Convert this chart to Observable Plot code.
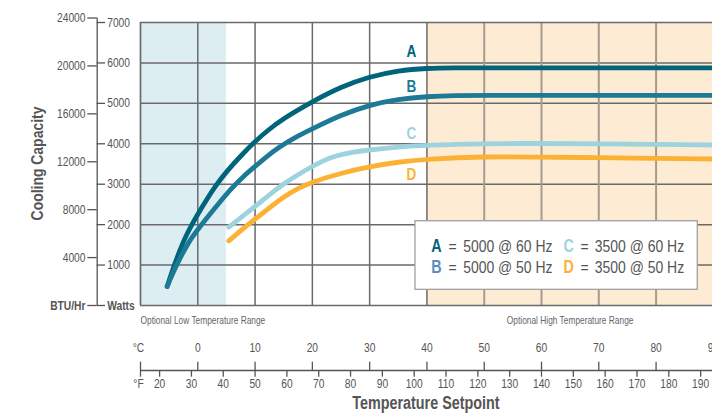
<!DOCTYPE html>
<html>
<head>
<meta charset="utf-8">
<script src="https://cdn.jsdelivr.net/npm/d3@7"></script>
<script src="https://cdn.jsdelivr.net/npm/@observablehq/plot@0.6"></script>
<style>
  html, body { margin: 0; padding: 0; background: #fff; overflow: hidden; }
</style>
</head>
<body>
<div id="chart"></div>
<script>
// ---------- data (°C, Watts) ----------
const curveA = [[-5.35,470],[-4.2,960],[-3,1420],[-2,1740],[-1,2010],[0,2260],[1.5,2610],[3.1,2960],[5.1,3330],[7.5,3700],[10,4060],[12.1,4320],[15,4632],[20,5045],[25,5410],[30,5660],[35,5815],[40,5870],[45,5880],[50,5880],[60,5880],[70,5880],[80,5880],[90,5880]];
const curveB = [[-5.35,470],[-4.2,850],[-3,1200],[-2,1460],[-1,1690],[0,1880],[1.5,2155],[3.5,2500],[6,2920],[8,3200],[10,3440],[12,3680],[14,3900],[17,4160],[20,4370],[25,4715],[30,4963],[35,5104],[40,5170],[45,5195],[50,5195],[60,5195],[70,5195],[80,5195],[90,5195]];
const curveC = [[5.42,1937],[7.5,2170],[10,2450],[12.5,2740],[15,3010],[17.5,3240],[20,3440],[22,3590],[24,3700],[27,3790],[30,3850],[35,3925],[40,3970],[50,4005],[60,4010],[70,4000],[80,3985],[90,3970]];
const curveD = [[5.42,1600],[7.5,1855],[10,2135],[12.5,2420],[15,2690],[17.5,2900],[20,3060],[25,3275],[30,3435],[35,3550],[40,3625],[50,3685],[60,3672],[70,3655],[80,3640],[90,3623]];

const seriesNames = ["A", "B", "C", "D"];
const seriesColors = ["#00657a", "#1d7a97", "#9dd3de", "#fbb134"];
const legendColors = ["#00657a", "#5a8dbd", "#9dd3de", "#fbb134"];
const legendTexts = ["5000 @ 60 Hz", "5000 @ 50 Hz", "3500 @ 60 Hz", "3500 @ 50 Hz"];

const celsiusTicks = [0, 10, 20, 30, 40, 50, 60, 70, 80, 90];
const fahrenheitTicks = [20, 30, 40, 50, 60, 70, 80, 90, 100, 110, 120, 130, 140, 150, 160, 170, 180, 190];
const wattTicks = [1000, 2000, 3000, 4000, 5000, 6000, 7000];
const btuTicks = [4000, 8000, 12000, 16000, 20000, 24000];
const BTU_PER_WATT = 3.375;

const lowRangeC = [-10, 5];
const highRangeStartC = 40;

// ---------- layout ----------
const W = 712, H = 417;
const FONT = "'Liberation Sans', Arial, Helvetica, sans-serif";
const NARROW = 0.82; // condensed look of the original typeface
const X_DOMAIN = [-10, 89.85];
const Y_DOMAIN = [0, 7000];
const f2c = f => (f - 32) * 5 / 9;
// positions outside the frame, expressed in data units
const AXIS_LINE = -1608, CT_TOP = -1402, FT_BOT = -1773;
const LEFT_AXIS = -17.56, BTU_TICK_L = -19.2, W_TICK_R = -16.11;

const pts = [curveA, curveB, curveC, curveD].flatMap((c, i) =>
  c.map(([t, w]) => ({series: seriesNames[i], t, w})));

const labelPos = [
  {s: "A", t: 37.3, w: 6266}, {s: "B", t: 37.3, w: 5400},
  {s: "C", t: 37.3, w: 4247}, {s: "D", t: 37.3, w: 3240}
];
const legendRows = [1459, 932];
const legendItems = [
  {s: "A", t0: 40.75, te: 43.77, td: 46.33, w: legendRows[0], i: 0},
  {s: "B", t0: 40.75, te: 43.77, td: 46.33, w: legendRows[1], i: 1},
  {s: "C", t0: 63.84, te: 66.81, td: 69.3, w: legendRows[0], i: 2},
  {s: "D", t0: 63.84, te: 66.81, td: 69.3, w: legendRows[1], i: 3}
];

const GRID = "#6a6a6a";
const AX = "#555";

const chart = Plot.plot({
  width: W, height: H,
  marginLeft: 140, marginRight: 0, marginTop: 22, marginBottom: 112,
  style: {fontFamily: FONT, background: "#fff", overflow: "hidden"},
  x: {domain: X_DOMAIN, axis: null},
  y: {domain: Y_DOMAIN, axis: null},
  color: {domain: seriesNames, range: seriesColors},
  marks: [
    // range backgrounds
    Plot.rect([{x1: lowRangeC[0], x2: lowRangeC[1]}], {x1: "x1", x2: "x2", y1: 0, y2: 7000, fill: "#ddeef3"}),
    Plot.rect([{x1: highRangeStartC, x2: X_DOMAIN[1]}], {x1: "x1", x2: "x2", y1: 0, y2: 7000, fill: "#fdebd3"}),
    // grid
    Plot.ruleY(wattTicks.slice(0, -1), {stroke: GRID, strokeWidth: 1.5}),
    Plot.ruleX(celsiusTicks.filter(d => d <= 40), {stroke: GRID, strokeWidth: 1.5}),
    Plot.ruleX(celsiusTicks.filter(d => d > 40), {stroke: "#a59c90", strokeWidth: 2}),
    // frame
    Plot.ruleY([0, 7000], {stroke: GRID, strokeWidth: 1.7}),
    Plot.ruleX([-10], {stroke: GRID, strokeWidth: 1.7}),
    // curves
    Plot.line(pts, {x: "t", y: "w", z: "series", stroke: "series", strokeWidth: 4.8,
      strokeLinecap: "round", strokeLinejoin: "round", curve: "basis"}),
    // curve labels
    Plot.text(labelPos, {x: "t", y: "w", text: "s", fill: d => d.s, fontSize: 16.5, fontWeight: "bold"}),
    // legend
    Plot.rect([0], {x1: 38.0, x2: 87.28, y1: 388, y2: 2085, fill: "#fff", stroke: "#a0a0a0", strokeWidth: 1.3}),
    Plot.text(legendItems, {x: "t0", y: "w", text: "s", fill: d => legendColors[d.i], textAnchor: "start", fontSize: 17.5, fontWeight: "bold"}),
    Plot.text(legendItems, {x: "te", y: "w", text: () => "=", fill: AX, textAnchor: "start", fontSize: 17}),
    Plot.text(legendItems, {x: "td", y: "w", text: d => legendTexts[d.i], fill: AX, textAnchor: "start", fontSize: 17}),
    // left dual axis
    Plot.ruleX([LEFT_AXIS], {y1: 0, y2: btuTicks[btuTicks.length - 1] / BTU_PER_WATT, stroke: AX, strokeWidth: 1.3}),
    Plot.ruleY([0, ...btuTicks.map(b => b / BTU_PER_WATT)], {x1: BTU_TICK_L, x2: LEFT_AXIS, stroke: AX, strokeWidth: 1.3}),
    Plot.ruleY([0, ...wattTicks], {x1: LEFT_AXIS, x2: W_TICK_R, stroke: AX, strokeWidth: 1.3}),
    Plot.text(btuTicks, {y: d => d / BTU_PER_WATT, text: d => String(d), frameAnchor: "left", dx: -55, textAnchor: "end", fill: AX, fontSize: 12.5}),
    Plot.text(wattTicks, {y: d => d, text: d => String(d), frameAnchor: "left", dx: -33.3, textAnchor: "start", fill: AX, fontSize: 12.5}),
    Plot.text(["BTU/Hr"], {y: 0, text: d => d, frameAnchor: "left", dx: -55, textAnchor: "end", fill: AX, fontSize: 12.5, fontWeight: "bold"}),
    Plot.text(["Watts"], {y: 0, text: d => d, frameAnchor: "left", dx: -33.3, textAnchor: "start", fill: AX, fontSize: 12.5, fontWeight: "bold"}),
    Plot.text(["Cooling Capacity"], {y: 3512, text: d => d, frameAnchor: "left", dx: -103, rotate: -90, textAnchor: "middle", fill: AX, fontSize: 17, fontWeight: "bold"}),
    // range captions
    Plot.text(["Optional Low Temperature Range"], {x: lowRangeC[0], text: d => d, frameAnchor: "bottom", dy: 18.5, textAnchor: "start", fill: "#666", fontSize: 10.2}),
    Plot.text(["Optional High Temperature Range"], {x: (highRangeStartC + 90) / 2, text: d => d, frameAnchor: "bottom", dy: 18.5, textAnchor: "middle", fill: "#666", fontSize: 10.2}),
    // bottom dual temperature axis
    Plot.ruleY([AXIS_LINE], {x1: -10, x2: X_DOMAIN[1], stroke: AX, strokeWidth: 1.3}),
    Plot.ruleX([-10], {y1: CT_TOP, y2: FT_BOT, stroke: AX, strokeWidth: 1.3}),
    Plot.ruleX(celsiusTicks, {y1: CT_TOP, y2: AXIS_LINE, stroke: AX, strokeWidth: 1.3}),
    Plot.ruleX(fahrenheitTicks.map(f2c), {y1: AXIS_LINE, y2: FT_BOT, stroke: AX, strokeWidth: 1.3}),
    Plot.text(celsiusTicks, {x: d => d, text: d => String(d), frameAnchor: "bottom", dy: 46.7, textAnchor: "middle", fill: AX, fontSize: 12.5}),
    Plot.text(fahrenheitTicks, {x: f2c, text: d => String(d), frameAnchor: "bottom", dy: 82.3, textAnchor: "middle", fill: AX, fontSize: 12.5}),
    Plot.text(["°C"], {x: -10, text: d => d, frameAnchor: "bottom", dy: 46.7, dx: -2, textAnchor: "middle", fill: AX, fontSize: 12.5}),
    Plot.text(["°F"], {x: -10, text: d => d, frameAnchor: "bottom", dy: 82.3, dx: -2, textAnchor: "middle", fill: AX, fontSize: 12.5}),
    Plot.text(["Temperature Setpoint"], {x: 40, text: d => d, frameAnchor: "bottom", dy: 103.3, dx: -1, textAnchor: "middle", fill: AX, fontSize: 17.5, fontWeight: "bold"})
  ]
});
document.getElementById("chart").appendChild(chart);
// condense every label horizontally to mimic the original condensed typeface
chart.querySelectorAll("text").forEach(t => {
  const len = t.getComputedTextLength();
  if (len > 0) {
    t.setAttribute("textLength", (len * NARROW).toFixed(2));
    t.setAttribute("lengthAdjust", "spacingAndGlyphs");
  }
});
</script>
</body>
</html>
